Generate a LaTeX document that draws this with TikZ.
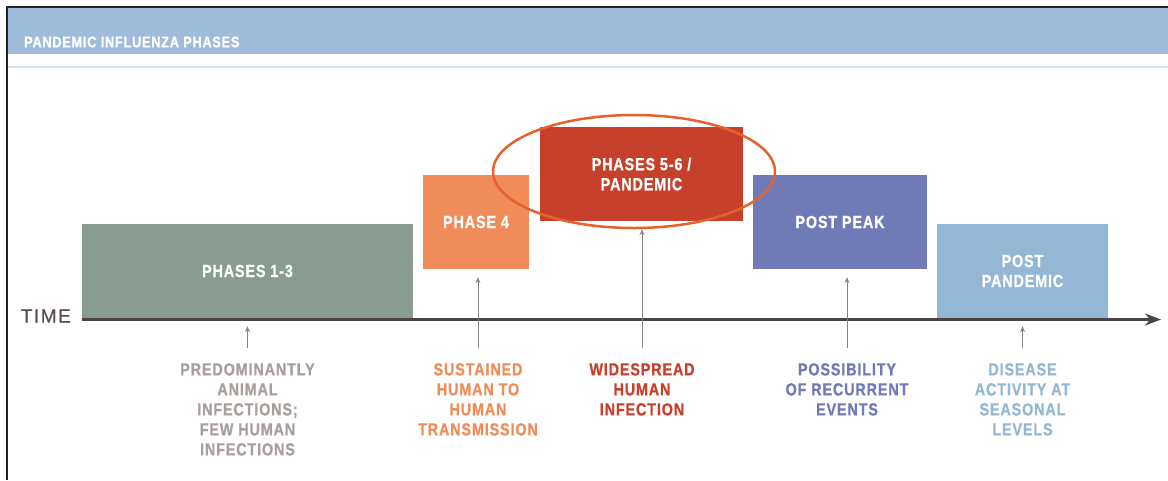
\documentclass[tikz,border=0pt]{standalone}
\usepackage{fontspec}
\setmainfont{Liberation Sans}
\newfontfamily\narrowfont{Liberation Sans}[FakeStretch=0.82,LetterSpace=5,FakeBold=0.8]
\newfontfamily\timefont{Liberation Sans}[LetterSpace=8,FakeBold=0.6]
\usetikzlibrary{arrows.meta}

\definecolor{headblue}{HTML}{9FBDDB}
\definecolor{paleblue}{HTML}{D6E4F0}
\definecolor{framegray}{HTML}{222222}
\definecolor{greenish}{HTML}{8A9B92}
\definecolor{orangeish}{HTML}{F08C5A}
\definecolor{redish}{HTML}{C6402B}
\definecolor{ringred}{HTML}{E8602C}
\definecolor{purplish}{HTML}{6F7AB6}
\definecolor{skyish}{HTML}{93B7D4}
\definecolor{notegray}{HTML}{A89E9C}
\definecolor{axisgray}{HTML}{4A4446}
\definecolor{arrowgray}{HTML}{8C8284}
\definecolor{timegray}{HTML}{5A4E50}

\begin{document}
\begin{tikzpicture}[x=1pt, y=-1pt,
  phasebox/.style={fill=#1, text=white, inner sep=0, align=center,
    font=\narrowfont\bfseries\fontsize{17.5}{20}\selectfont},
  note/.style={text=#1, inner sep=0, anchor=north, align=center,
    font=\narrowfont\bfseries\fontsize{17.5}{20}\selectfont},
  pointer/.style={draw=arrowgray, line width=1pt, -{Stealth[length=6pt,width=5pt]},
    shorten <=15pt, shorten >=8pt}]
\useasboundingbox (0,0) rectangle (1168,480);

% Draw the header band and the frame
\fill[headblue] (8,8) rectangle (1168,54);
\draw[line width=2pt, paleblue] (8,67) -- (1168,67);
\draw[line width=2.5pt, framegray] (7,480) -- (7,7) -- (1168,7);
\node[anchor=west, inner sep=0, text=white, font=\narrowfont\bfseries\fontsize{15.5}{16}\selectfont] (title) at (24,42) {PANDEMIC INFLUENZA PHASES};

% Draw the phase boxes
\node[phasebox=greenish, minimum width=331, minimum height=94] (p13) at (247.5,271) {PHASES 1-3};
\node[phasebox=orangeish, minimum width=106, minimum height=94] (p4) at (476,222) {PHASE 4};
\node[phasebox=redish, minimum width=203, minimum height=94] (p56) at (641.5,174) {PHASES 5-6 /\\PANDEMIC};
\node[phasebox=purplish, minimum width=174, minimum height=94] (pk) at (840,222) {POST PEAK};
\node[phasebox=skyish, minimum width=171, minimum height=94] (pp) at (1022.5,271) {POST\\PANDEMIC};

% Ring round the pandemic phase
\draw[line width=2.5pt, ringred] (634,171.5) ellipse [x radius=141, y radius=56.5];

% Time axis
\coordinate (t0) at (82,319.5);
\coordinate (t1) at (1161,319.5);
\draw[line width=3pt, axisgray, -{Stealth[length=16pt,width=12pt]}] (t0) -- (t1);
\node[anchor=east, inner sep=0, text=timegray, font=\timefont\fontsize{19}{19}\selectfont] (time) at (71,316) {TIME};

% Notes under the axis
\node[note=notegray] (n13) at (247.5,363) {PREDOMINANTLY\\ANIMAL\\INFECTIONS;\\FEW HUMAN\\INFECTIONS};
\node[note=orangeish] (n4) at (478,363) {SUSTAINED\\HUMAN TO\\HUMAN\\TRANSMISSION};
\node[note=redish] (n56) at (642,363) {WIDESPREAD\\HUMAN\\INFECTION};
\node[note=purplish] (nk) at (847,363) {POSSIBILITY\\OF RECURRENT\\EVENTS};
\node[note=skyish] (np) at (1022.5,363) {DISEASE\\ACTIVITY AT\\SEASONAL\\LEVELS};

% Pointers up to the phases
\draw[pointer] (n13.north) -- (n13.north |- p13.south);
\draw[pointer] (n4.north) -- (n4.north |- p4.south);
\draw[pointer] (n56.north) -- (n56.north |- p56.south);
\draw[pointer] (nk.north) -- (nk.north |- pk.south);
\draw[pointer] (np.north) -- (np.north |- pp.south);
\end{tikzpicture}
\end{document}
